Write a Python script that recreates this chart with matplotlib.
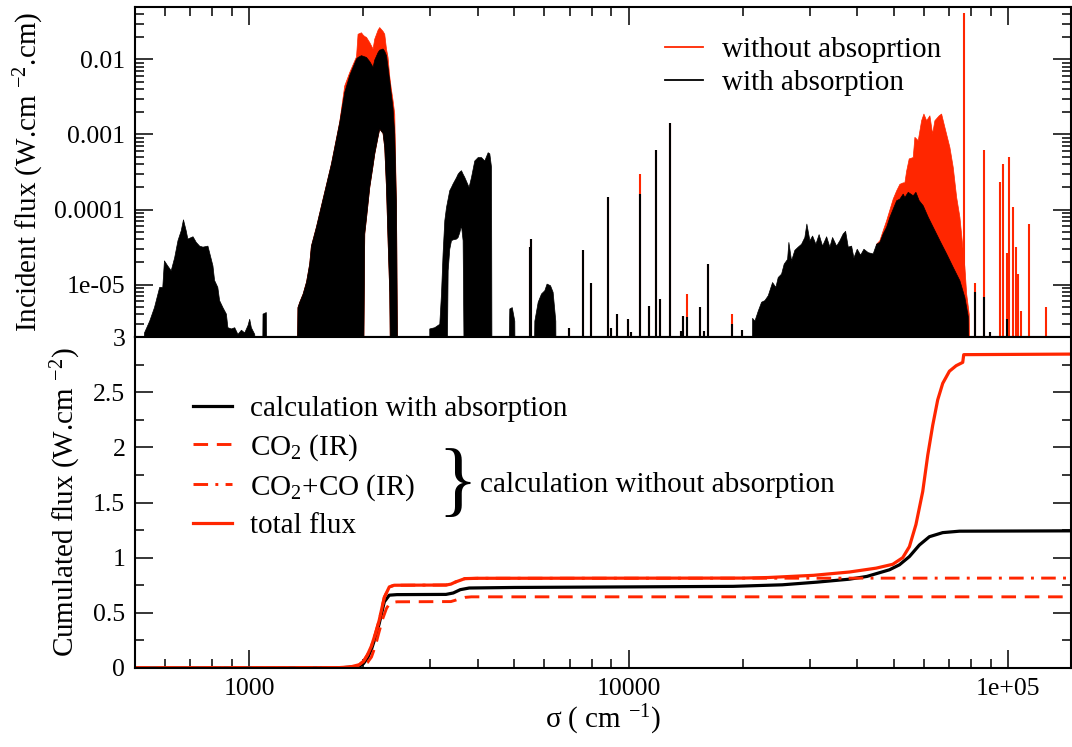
import numpy as np
import matplotlib
matplotlib.use("Agg")
import matplotlib.pyplot as plt
from matplotlib.ticker import FixedLocator, FuncFormatter, LogLocator, MultipleLocator
from matplotlib.lines import Line2D

plt.rcParams['font.family'] = ['Liberation Serif', 'DejaVu Serif']
plt.rcParams['mathtext.fontset'] = 'custom'
plt.rcParams['mathtext.rm'] = 'Liberation Serif'
plt.rcParams['mathtext.it'] = 'Liberation Serif:italic'
plt.rcParams['mathtext.bf'] = 'Liberation Serif:bold'

RED = '#ff2600'
FS_TICK = 18.5
FS = 21
FLOOR = 1e-7   # baseline below the visible flux range

# ---------------- incident spectrum (W.cm-2.cm) ----------------
# CO2 bending band region
band1_sigma = [512.7, 528, 545, 561, 579, 590, 596, 608, 621, 634, 647, 660, 669, 680, 687,
               709, 723, 738, 753, 776, 792, 800, 808, 824, 833, 850, 868, 876, 895, 913,
               931, 951, 970, 990, 1000, 1010, 1031, 1062]
band1_flux = [0, 2.3e-6, 3.3e-6, 5.0e-6, 9.3e-6, 9.3e-6, 2.1e-5, 1.8e-5, 1.55e-5, 2.3e-5, 3.9e-5,
              5.3e-5, 7.4e-5, 5.3e-5, 4.1e-5, 4.4e-5, 3.7e-5, 3.3e-5, 3.2e-5, 3.3e-5, 2.2e-5,
              1.8e-5, 1.15e-5, 9.3e-6, 6.2e-6, 5.0e-6, 4.1e-6, 2.7e-6, 2.6e-6, 2.7e-6, 2.2e-6,
              2.5e-6, 2.3e-6, 2.9e-6, 3.5e-6, 2.7e-6, 2.2e-6, 0]

band1b_sigma = [1078, 1084, 1106, 1115]
band1b_flux = [0, 4.1e-6, 4.3e-6, 0]

# 4.3 um region: with / without absorption, and the hole under the line envelope
band2_sigma = [1328, 1340, 1355, 1383, 1412, 1439, 1454, 1499, 1561, 1642, 1727, 1780, 1835,
               1912, 1930, 1970, 1990, 2010, 2031, 2072, 2114, 2136, 2180, 2201, 2246, 2269,
               2293, 2315, 2339, 2360, 2386, 2411, 2437, 2461]
band2_abs = [0, 5.0e-6, 5.9e-6, 7.6e-6, 1.1e-5, 1.9e-5, 3.3e-5, 5.9e-5, 1.4e-4, 4.1e-4,
             1.47e-3, 3.7e-3, 6.2e-3, 1.03e-2, 1.08e-2, 1.14e-2, 1.12e-2, 1.1e-2, 1.08e-2,
             9.5e-3, 8.0e-3, 1.0e-2, 1.26e-2, 1.35e-2, 1.4e-2, 1.3e-2, 1.14e-2, 8.0e-3,
             5.3e-3, 3.6e-3, 2.3e-3, 1.03e-3, 1.1e-4, 0]
band2_noabs = [0, 5.0e-6, 5.9e-6, 7.6e-6, 1.1e-5, 1.9e-5, 3.3e-5, 5.9e-5, 1.4e-4, 4.1e-4,
               1.5e-3, 4.5e-3, 6.8e-3, 1.1e-2, 2.2e-2, 2.3e-2, 2.15e-2, 2.05e-2, 2.0e-2,
               1.7e-2, 1.4e-2, 1.9e-2, 2.5e-2, 2.7e-2, 2.4e-2, 2.2e-2, 1.4e-2, 1.08e-2,
               6.0e-3, 4.2e-3, 2.9e-3, 1.9e-3, 1.1e-4, 0]
band2_low = [0, 0, 0, 0, 0, 0, 0, 0, 0, 0, 0, 0, 0, 0, 0, 0, 0,
             4.8e-5, 7.7e-5, 2.0e-4, 3.9e-4, 5.6e-4, 9.5e-4, 1.2e-3, 1.05e-3, 6.8e-4, 2.0e-4,
             4.0e-5, 8e-6, 0, 0, 0, 0, 0]

band3_sigma = [2982, 3074, 3169, 3202, 3233, 3267, 3301, 3334, 3367, 3402, 3435, 3508, 3542,
               3578, 3615, 3651, 3688, 3786, 3842, 3919, 4000, 4082, 4164, 4250, 4293, 4338, 4354]
band3_flux = [2.6e-6, 2.7e-6, 3.0e-6, 7.6e-6, 2.6e-5, 7.2e-5, 1.08e-4, 1.4e-4, 1.81e-4, 2.0e-4,
              2.22e-4, 2.7e-4, 3.0e-4, 3.2e-4, 3.34e-4, 3.0e-4, 2.72e-4, 2.0e-4, 2.72e-4,
              4.5e-4, 5.0e-4, 5.0e-4, 4.5e-4, 5.8e-4, 5.6e-4, 3.7e-4, 0]
band3_low = [0, 0, 0, 0, 0, 0, 0, 1.55e-5, 3.0e-5, 3.9e-5, 4.0e-5, 4.1e-5, 4.3e-5, 5.0e-5,
             6.2e-5, 3.9e-5, 0, 0, 0, 0, 0, 0, 0, 0, 0, 0, 0]

band5k_sigma = [4780, 4847, 4920, 4996, 5020]
band5k_flux = [0, 4.8e-6, 5.0e-6, 3.3e-6, 0]

band6k_sigma = [5584, 5642, 5758, 5875, 5994, 6077, 6205, 6304, 6408, 6435]
band6k_flux = [0, 3.3e-6, 5.9e-6, 7.6e-6, 8.4e-6, 1.03e-5, 9.8e-6, 8.0e-6, 3.3e-6, 0]

# isolated lines in the near infrared / visible
line_sigma = [5480, 5530, 6977, 7565, 7960, 8841, 8988, 9298, 9982, 10147, 10737, 11290,
              11814, 12100, 12823, 13740, 13935, 14217, 15425, 15833, 16223, 18690, 19940]
line_abs = [3.2e-5, 4.1e-5, 2.6e-6, 2.9e-5, 1.05e-5, 1.47e-4, 2.6e-6, 4.1e-6, 3.5e-6, 2.3e-6,
            1.63e-4, 5.1e-6, 6.2e-4, 6.5e-6, 1.44e-3, 2.4e-6, 3.8e-6, 3.7e-6, 5.0e-6, 2.4e-6,
            1.9e-5, 3.0e-6, 2.5e-6]
line_noabs = [3.2e-5, 4.1e-5, 2.6e-6, 2.9e-5, 1.05e-5, 1.47e-4, 2.6e-6, 4.1e-6, 3.5e-6, 2.3e-6,
              2.96e-4, 5.1e-6, 6.2e-4, 6.5e-6, 1.44e-3, 2.4e-6, 3.8e-6, 7.4e-6, 5.0e-6, 2.4e-6,
              1.9e-5, 4.1e-6, 2.5e-6]

# ultraviolet continuum
band4_sigma = [21026, 21153, 21451, 21892, 22340, 22791, 23260, 23878, 24361, 24712, 25220,
               25622, 26158, 26363, 26796, 27337, 27899, 28473, 29048, 29403, 29950, 30444,
               31061, 31670, 32345, 33150, 33810, 34368, 35223, 35930, 36659, 37198, 37798,
               38577, 39119, 39913, 40744, 41568, 42680, 43975, 44902, 45800, 46730, 47714,
               48670, 49658, 50704, 51710, 52760, 53303, 54399, 56065, 56989, 58143, 59575,
               61426, 63299, 65920, 68676, 71472, 74430, 76722, 78300, 79430]
band4_abs = [0, 3.6e-6, 3.3e-6, 4.5e-6, 5.9e-6, 6.2e-6, 7.2e-6, 1.08e-5, 9.3e-6, 1.26e-5,
             1.4e-5, 1.9e-5, 2.2e-5, 3.7e-5, 2.1e-5, 2.9e-5, 3.2e-5, 3.5e-5, 4.3e-5, 6.5e-5,
             3.9e-5, 4.5e-5, 3.5e-5, 4.7e-5, 3.3e-5, 4.4e-5, 3.2e-5, 4.3e-5, 3.3e-5, 3.9e-5,
             4.8e-5, 5.2e-5, 3.2e-5, 3.3e-5, 2.3e-5, 3.0e-5, 2.5e-5, 3.0e-5, 2.7e-5, 2.6e-5,
             3.5e-5, 3.7e-5, 4.8e-5, 5.9e-5, 8.0e-5, 1.03e-4, 1.33e-4, 1.4e-4, 1.63e-4,
             1.47e-4, 1.72e-4, 1.55e-4, 1.72e-4, 1.33e-4, 1.14e-4, 8.0e-5, 5.9e-5, 3.9e-5,
             2.6e-5, 1.72e-5, 1.14e-5, 6.8e-6, 3.8e-6, 0]

band4_noabs_sigma = [44902, 45800, 46730, 47714, 48670, 49658, 50704, 51710, 52760, 53303,
                     53872, 54714, 56065, 56642, 57807, 58997, 59826, 60831, 62040, 63064,
                     63951, 65645, 66606, 67950, 70050, 71472, 72978, 74430, 75480, 76722,
                     77541, 78755, 79430]
band4_noabs = [3.5e-5, 3.9e-5, 5.3e-5, 7.2e-5, 1.0e-4, 1.4e-4, 1.8e-4, 2.2e-4, 2.3e-4, 2.3e-4,
               3.3e-4, 4.8e-4, 5.0e-4, 9.3e-4, 8.4e-4, 1.55e-3, 1.9e-3, 1.55e-3, 1.8e-3,
               1.03e-3, 1.55e-3, 1.8e-3, 1.9e-3, 1.26e-3, 6.8e-4, 3.7e-4, 1.47e-4, 8.0e-5,
               3.9e-5, 1.72e-5, 7.6e-6, 4.1e-6, 0]

# far-UV lines
uv_sigma = [76403, 82024, 86628, 89684, 95469, 97224, 99198, 100403, 103280, 104711, 106042,
            108214, 113322, 125720]
uv_noabs = [4.2e-2, 1.05e-5, 6.2e-4, 2.3e-6, 2.3e-4, 4.1e-4, 2.6e-5, 5.0e-4, 1.08e-4, 3.2e-5,
            1.4e-5, 4.5e-6, 6.5e-5, 5.0e-6]
uv_abs = [0, 8.0e-6, 6.8e-6, 2.3e-6, 0, 0, 3.5e-6, 0, 0, 0, 0, 0, 0, 0]

# ---------------- cumulated flux (W.cm-2) ----------------
cum_sigma_abs = [500, 1750, 1950, 2000, 2050, 2100, 2150, 2200, 2270, 2340, 2450, 3300, 3450,
                 3600, 3800, 5000, 10000, 18850, 25400, 31300, 38180, 42450, 48670, 51710,
                 54950, 58390, 62040, 67260, 74430, 146500]
cum_abs = [0, 0.002, 0.015, 0.04, 0.09, 0.17, 0.28, 0.4, 0.6, 0.66, 0.665, 0.667, 0.68, 0.71,
           0.725, 0.73, 0.735, 0.74, 0.754, 0.778, 0.805, 0.83, 0.89, 0.935, 1.01, 1.115,
           1.19, 1.227, 1.24, 1.243]

cum_sigma_co2 = [500, 1750, 1950, 2050, 2100, 2150, 2200, 2250, 2300, 2350, 2450, 3400, 3500,
                 3600, 3700, 3850, 146500]
cum_co2 = [0, 0.002, 0.01, 0.05, 0.1, 0.2, 0.33, 0.45, 0.54, 0.59, 0.6, 0.602, 0.615, 0.63,
           0.64, 0.645, 0.645]

cum_sigma_co2co = [500, 1700, 1850, 1950, 2000, 2050, 2100, 2150, 2200, 2270, 2340, 2410, 3300,
                   3400, 3500, 3600, 3700, 4000, 146500]
cum_co2co = [0, 0.002, 0.01, 0.03, 0.06, 0.12, 0.2, 0.31, 0.43, 0.64, 0.735, 0.75, 0.752, 0.76,
             0.78, 0.795, 0.81, 0.813, 0.815]

cum_sigma_total = [500, 1700, 1850, 1950, 2000, 2050, 2100, 2150, 2200, 2270, 2340, 2410, 3300,
                   3400, 3500, 3600, 3700, 4000, 20000, 23300, 30700, 38180, 44900, 49660,
                   52760, 54950, 57170, 59575, 61426, 63299, 65240, 67260, 70050, 72978, 75941,
                   76403, 146500]
cum_total = [0, 0.002, 0.01, 0.03, 0.06, 0.12, 0.2, 0.31, 0.43, 0.64, 0.735, 0.75, 0.752, 0.76,
             0.78, 0.795, 0.81, 0.813, 0.815, 0.82, 0.84, 0.87, 0.905, 0.94, 1.0, 1.1, 1.3, 1.6,
             1.93, 2.2, 2.43, 2.58, 2.69, 2.74, 2.77, 2.84, 2.845]

top_ticks = [1e-5, 1e-4, 1e-3, 1e-2]
top_ticklabels = ['1e-05', '0.0001', '0.001', '0.01']
x_ticks = [1000, 10000, 100000]
x_ticklabels = ['1000', '10000', '1e+05']


def floor(v):
    return np.maximum(np.asarray(v, dtype=float), FLOOR)


def band(ax, s, up, low=None, color='k', z=3):
    lo = np.full(len(s), FLOOR) if low is None else floor(low)
    ax.fill_between(s, lo, floor(up), facecolor=color, edgecolor=color, lw=0.5, zorder=z)


def lines(ax, s, h, color='k', z=3):
    ax.vlines(s, FLOOR, floor(h), colors=color, lw=1.5, zorder=z)


W, H = 1072, 747
fig = plt.figure(figsize=(W / 100, H / 100), dpi=100)
ax1 = fig.add_axes([135 / W, 1 - 337 / H, 936 / W, 330 / H])
ax2 = fig.add_axes([135 / W, 1 - 668 / H, 936 / W, 331 / H], sharex=ax1)

# ---- top panel: spectra ----
band(ax1, band2_sigma, band2_noabs, band2_low, RED, 2)
band(ax1, band4_noabs_sigma, band4_noabs, None, RED, 2)
lines(ax1, line_sigma, line_noabs, RED, 2)
lines(ax1, uv_sigma, uv_noabs, RED, 2)

band(ax1, band1_sigma, band1_flux)
band(ax1, band1b_sigma, band1b_flux)
band(ax1, band2_sigma, band2_abs, band2_low)
band(ax1, band3_sigma, band3_flux, band3_low)
band(ax1, band5k_sigma, band5k_flux)
band(ax1, band6k_sigma, band6k_flux)
band(ax1, band4_sigma, band4_abs)
lines(ax1, line_sigma, line_abs)
lines(ax1, uv_sigma, uv_abs)

ax1.set_yscale('log')
ax1.set_ylim(2e-6, 0.05)
ax1.yaxis.set_major_locator(FixedLocator(top_ticks))
ax1.yaxis.set_major_formatter(FuncFormatter(
    lambda v, p: dict(zip(top_ticks, top_ticklabels)).get(v, '')))
ax1.yaxis.set_minor_locator(LogLocator(base=10, subs=np.arange(2, 10), numticks=50))
ax1.set_ylabel('Incident flux (W.cm $^{-2}$.cm)', fontsize=FS)
ax1.yaxis.set_label_coords(-0.095, 0.5)

ax1.legend(handles=[Line2D([], [], color=RED, lw=1.3),
                    Line2D([], [], color='k', lw=1.3)],
           labels=['without absoprtion', 'with absorption'],
           loc='upper left', bbox_to_anchor=(0.566, 0.91), frameon=False,
           fontsize=FS, handlelength=1.3, handletextpad=0.65, labelspacing=0.22,
           borderpad=0, borderaxespad=0)

# ---- bottom panel: cumulated flux ----
ax2.plot(cum_sigma_abs, cum_abs, color='k', lw=2.3, label='calculation with absorption')
ax2.plot(cum_sigma_co2, cum_co2, color=RED, lw=2.1, ls=(0, (5, 3)), label='CO$_2$ (IR)')
ax2.plot(cum_sigma_co2co, cum_co2co, color=RED, lw=2.1, ls=(0, (5, 2.5, 1, 2.5)),
         label='CO$_2$+CO (IR)')
ax2.plot(cum_sigma_total, cum_total, color=RED, lw=2.3, label='total flux')
ax2.set_ylim(0, 3)
ax2.yaxis.set_major_locator(MultipleLocator(0.5))
ax2.yaxis.set_minor_locator(MultipleLocator(0.25))
ax2.yaxis.set_major_formatter(FuncFormatter(lambda v, p: '%g' % v))
ax2.set_ylabel('Cumulated flux (W.cm $^{-2}$)', fontsize=FS)
ax2.yaxis.set_label_coords(-0.056, 0.5)

ax2.legend(loc='upper left', bbox_to_anchor=(0.062, 0.822), frameon=False, fontsize=FS,
           handlelength=1.34, handletextpad=0.62, labelspacing=0.33, borderpad=0,
           borderaxespad=0)
ax2.text(0.344, 0.548, '}', transform=ax2.transAxes, fontsize=60, ha='center', va='center')
ax2.text(0.3686, 0.532, 'calculation without absorption', transform=ax2.transAxes,
         fontsize=FS, ha='left', va='baseline')

ax2.set_xscale('log')
ax2.set_xlim(500, 1.465e5)
ax2.xaxis.set_major_locator(FixedLocator(x_ticks))
ax2.xaxis.set_major_formatter(FuncFormatter(
    lambda v, p: dict(zip(x_ticks, x_ticklabels)).get(v, '')))
ax2.xaxis.set_minor_locator(LogLocator(base=10, subs=np.arange(2, 10), numticks=50))
ax2.set_xlabel('σ ( cm $^{-1}$)', fontsize=FS, labelpad=2)

for ax in (ax1, ax2):
    ax.tick_params(which='both', direction='in', width=1.1, labelsize=FS_TICK, pad=7)
    ax.tick_params(which='major', length=13)
    ax.tick_params(which='minor', length=6.5)
    for sp in ax.spines.values():
        sp.set_linewidth(1.5)
        sp.set_zorder(5)
ax1.tick_params(which='both', top=True, bottom=False, right=True, labelbottom=False)
ax2.tick_params(which='both', top=False, bottom=True, right=True)

fig.savefig('out.png', dpi=100)
